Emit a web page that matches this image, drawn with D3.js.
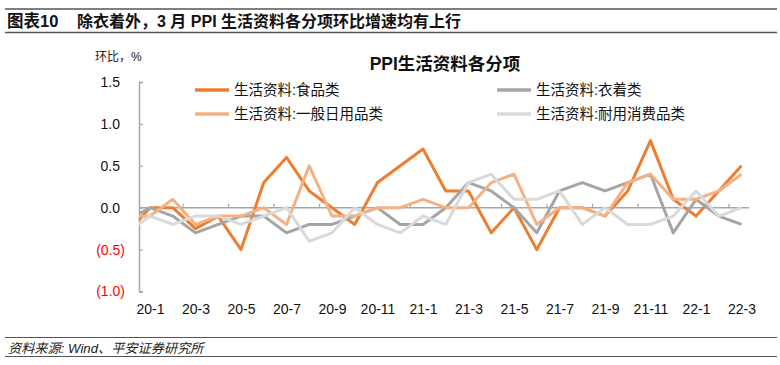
<!DOCTYPE html>
<html>
<head>
<meta charset="utf-8">
<script src="https://cdn.jsdelivr.net/npm/d3@7"></script>
<style>
  body { margin: 0; background: #fff; }
  svg { display: block; font-family: "Liberation Sans", Arial, "Noto Sans CJK SC", sans-serif; }
</style>
</head>
<body>
<svg id="svg" width="780" height="365"></svg>
<script>
// months, 19-12 is only the clipped lead-in segment at the left edge
const months = ['19-12',
  '20-1','20-2','20-3','20-4','20-5','20-6','20-7','20-8','20-9','20-10','20-11','20-12',
  '21-1','21-2','21-3','21-4','21-5','21-6','21-7','21-8','21-9','21-10','21-11','21-12',
  '22-1','22-2','22-3']

const food     = [-0.3, 0.0, 0.0,-0.25,-0.1,-0.5, 0.3, 0.6, 0.2, 0.0,-0.2, 0.3, 0.5, 0.7, 0.2, 0.2,-0.3, 0.0,-0.5, 0.0, 0.0,-0.1, 0.2, 0.8, 0.1,-0.1, 0.2, 0.5]
const clothing = [-0.15,0.0,-0.1,-0.3,-0.2,-0.1,-0.1,-0.3,-0.2,-0.2,-0.1, 0.0,-0.2,-0.2, 0.0, 0.3, 0.2, 0.0,-0.3, 0.2, 0.3, 0.2, 0.3, 0.4,-0.3, 0.1,-0.1,-0.2]
const daily    = [-0.1,-0.1, 0.1,-0.2,-0.1,-0.1, 0.0,-0.2, 0.5,-0.1,-0.1, 0.0, 0.0, 0.1, 0.0, 0.0, 0.3, 0.4,-0.2, 0.0, 0.0,-0.1, 0.3, 0.4, 0.1, 0.1, 0.2, 0.4]
const durable  = [-0.3,-0.1,-0.2,-0.1,-0.1,-0.2,-0.1, 0.0,-0.4,-0.3, 0.0,-0.2,-0.3,-0.1,-0.2, 0.3, 0.4, 0.1, 0.1, 0.2,-0.2, 0.0,-0.2,-0.2,-0.1, 0.2,-0.1, 0.0]

const seriesNames = ['生活资料:食品类', '生活资料:衣着类', '生活资料:一般日用品类', '生活资料:耐用消费品类']
const xLabels = ['20-1','20-3','20-5','20-7','20-9','20-11','21-1','21-3','21-5','21-7','21-9','21-11','22-1','22-3']
const yTicks = [-1.0, -0.5, 0.0, 0.5, 1.0, 1.5]

const colors = ['#ED7D31', '#A5A5A5', '#F4B183', '#D9D9D9']
const seriesData = [food, clothing, daily, durable]

const plot = {left: 139, right: 749, top: 82, bottom: 291.5}

const svg = d3.select('#svg')

const x = d3.scalePoint().domain(months).range([127.25, 741.5])
const step = x.step()
const y = d3.scaleLinear().domain([-1, 1.5]).range([plot.bottom, plot.top])

// header
svg.append('line').attr('x1', 5).attr('x2', 777).attr('y1', 9).attr('y2', 9)
  .attr('stroke', '#555').attr('stroke-width', 1.5)
svg.append('line').attr('x1', 5).attr('x2', 777).attr('y1', 32.5).attr('y2', 32.5)
  .attr('stroke', '#555').attr('stroke-width', 1.5)
svg.append('text').attr('x', 7).attr('y', 27).attr('font-size', 16.5).attr('font-weight', 'bold')
  .attr('fill', '#111').text('图表10')
svg.append('text').attr('x', 77).attr('y', 27).attr('font-size', 16).attr('font-weight', 'bold')
  .attr('fill', '#111').text('除衣着外，3 月 PPI 生活资料各分项环比增速均有上行')

// footer
svg.append('line').attr('x1', 5).attr('x2', 777).attr('y1', 337.5).attr('y2', 337.5)
  .attr('stroke', '#555').attr('stroke-width', 1.2)
svg.append('line').attr('x1', 5).attr('x2', 777).attr('y1', 356.5).attr('y2', 356.5)
  .attr('stroke', '#555').attr('stroke-width', 1.2)
svg.append('text').attr('x', 8).attr('y', 352.5).attr('font-size', 13.2).attr('font-style', 'italic')
  .attr('fill', '#222').text('资料来源: Wind、平安证券研究所')

// chart title + unit
svg.append('text').attr('x', 445).attr('y', 70).attr('text-anchor', 'middle')
  .attr('font-size', 17.5).attr('font-weight', 'bold').attr('fill', '#111').text('PPI生活资料各分项')
svg.append('text').attr('x', 95).attr('y', 61).attr('font-size', 12).attr('fill', '#222').text('环比，%')

// y axis
const yAxis = svg.append('g')
  .attr('transform', `translate(${plot.left},0)`)
  .call(d3.axisLeft(y).tickValues(yTicks).tickSizeInner(-4).tickSizeOuter(-4).tickPadding(14)
    .tickFormat(d => d < 0 ? '(' + Math.abs(d).toFixed(1) + ')' : d.toFixed(1)))
yAxis.select('.domain').attr('stroke', '#A6A6A6').attr('stroke-width', 1.5)
yAxis.selectAll('.tick line').attr('stroke', '#A6A6A6').attr('stroke-width', 1.2)
yAxis.selectAll('.tick text')
  .attr('font-size', 14)
  .attr('fill', d => d < 0 ? '#FF0000' : '#111')
  .attr('x', d => d < 0 ? -14 : -19)

// x axis: zero line with upward ticks between labels
svg.append('line').attr('x1', plot.left).attr('x2', plot.right).attr('y1', y(0)).attr('y2', y(0))
  .attr('stroke', '#A6A6A6').attr('stroke-width', 1.5)
const tickMonths = months.filter((m, i) => i > 0 && i % 2 === 0 && i < 27)
svg.append('g').selectAll('line')
  .data(tickMonths)
  .join('line')
    .attr('x1', d => x(d) + 0.45 * step).attr('x2', d => x(d) + 0.45 * step)
    .attr('y1', y(0)).attr('y2', y(0) - 4)
    .attr('stroke', '#A6A6A6').attr('stroke-width', 1.2)

const xAxis = svg.append('g')
  .attr('transform', 'translate(0,300)')
  .call(d3.axisBottom(x).tickValues(xLabels).tickSize(0).tickPadding(4))
xAxis.select('.domain').remove()
xAxis.selectAll('.tick text').attr('font-size', 14).attr('fill', '#111')

// lines
svg.append('clipPath').attr('id', 'plot')
  .append('rect').attr('x', plot.left).attr('y', 0).attr('width', plot.right - plot.left).attr('height', 365)

const line = d3.line()
  .x((d, i) => x(months[i]))
  .y(d => y(d))

svg.append('g').attr('clip-path', 'url(#plot)')
  .selectAll('path')
  .data(seriesData)
  .join('path')
    .attr('d', d => line(d))
    .attr('fill', 'none')
    .attr('stroke', (d, i) => colors[i])
    .attr('stroke-width', 3)
    .attr('stroke-linejoin', 'round')

// legend
const legendPos = [[195, 90], [497, 90], [195, 114], [497, 114]]
const legend = svg.append('g').selectAll('g')
  .data(seriesNames)
  .join('g')
    .attr('transform', (d, i) => `translate(${legendPos[i][0]},${legendPos[i][1]})`)
legend.append('line').attr('x1', 0).attr('x2', 34).attr('y1', 0).attr('y2', 0)
  .attr('stroke', (d, i) => colors[i]).attr('stroke-width', 3.5)
legend.append('text').attr('x', 39).attr('y', 5).attr('font-size', 14.5).attr('fill', '#111').text(d => d)
</script>
</body>
</html>
